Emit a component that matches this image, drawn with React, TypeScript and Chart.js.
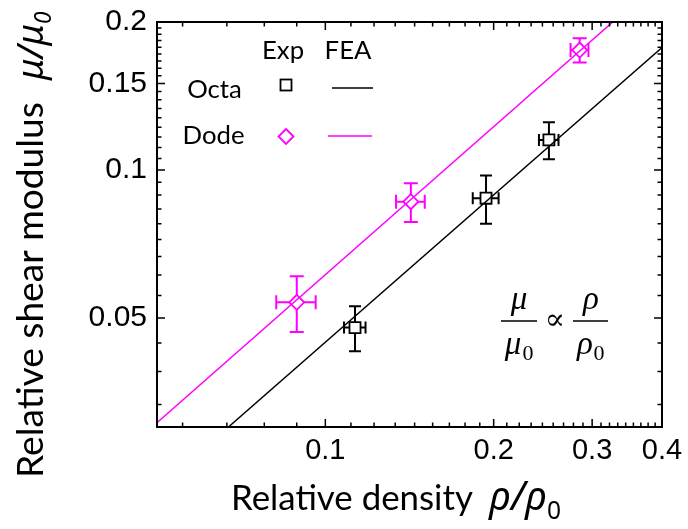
import React, { useEffect, useRef } from 'react';
import { Chart, registerables } from 'chart.js';
Chart.register(...registerables);

// ---- axis ranges & ticks ----
const xMin = 0.05;
const xMax = 0.4;
const yMin = 0.03;
const yMax = 0.2;
const xMajorTicks = [0.1, 0.2, 0.3, 0.4];
const xTickLabels = ['0.1', '0.2', '0.3', '0.4'];
const yMajorTicks = [0.05, 0.1, 0.15, 0.2];
const yTickLabels = ['0.05', '0.1', '0.15', '0.2'];
const xMajorStep = 0.1;
const yMajorStep = 0.05;
const minorPerMajor = 8;

// ---- experimental data ----
const octaDensity = [0.113, 0.1938, 0.2511];
const octaModulus = [0.0478, 0.0876, 0.1151];
const octaDensityErr = [0.005, 0.0103, 0.0101];
const octaModulusErr = [0.005, 0.0099, 0.0099];

const dodeDensity = [0.0889, 0.1422, 0.285];
const dodeModulus = [0.0538, 0.0862, 0.1754];
const dodeDensityErr = [0.0072, 0.0084, 0.0105];
const dodeModulusErr = [0.007, 0.0078, 0.0099];

// ---- FEA fits ----
const octaFeaDensity = [0.0671, 0.4];
const octaFeaModulus = [0.03, 0.1775];
const dodeFeaDensity = [0.05, 0.3266];
const dodeFeaModulus = [0.0306, 0.2];

const MAGENTA = '#ff00ff';
const BLACK = '#000000';
const SANS = 'Lato, "Open Sans", sans-serif';
const GREEK = '"Noto Sans", "DejaVu Sans", sans-serif';
const TICKFONT = '"Liberation Sans", Arial, sans-serif';
const SERIF = '"Liberation Serif", "DejaVu Serif", serif';

const pts = (xs: number[], ys: number[]) => xs.map((x, i) => ({ x, y: ys[i] }));

function fitSize(ctx: CanvasRenderingContext2D, text: string, style: string, family: string, target: number) {
  ctx.font = `${style} 40px ${family}`;
  const w = ctx.measureText(text).width;
  return (40 * target) / w;
}

function minorValues(step: number, min: number, max: number) {
  const out: { v: number; major: boolean }[] = [];
  const sub = step / (minorPerMajor + 1);
  for (let k = 1; k * sub <= max * 1.0001; k++) {
    const v = k * sub;
    if (v < min * 0.9999) continue;
    out.push({ v, major: k % (minorPerMajor + 1) === 0 });
  }
  return out;
}

const annotPlugin = {
  id: 'annot',
  beforeDatasetsDraw(chart: any) {
    const ctx: CanvasRenderingContext2D = chart.ctx;
    const xs = chart.scales.x;
    const ys = chart.scales.y;
    const drawErr = (d: number[], m: number[], de: number[], me: number[], color: string, cap: number) => {
      ctx.save();
      ctx.strokeStyle = color;
      ctx.lineWidth = 2;
      for (let i = 0; i < d.length; i++) {
        const cx = xs.getPixelForValue(d[i]);
        const cy = ys.getPixelForValue(m[i]);
        const xl = xs.getPixelForValue(d[i] - de[i]);
        const xr = xs.getPixelForValue(d[i] + de[i]);
        const yt = ys.getPixelForValue(m[i] + me[i]);
        const yb = ys.getPixelForValue(m[i] - me[i]);
        ctx.beginPath();
        ctx.moveTo(xl, cy); ctx.lineTo(xr, cy);
        ctx.moveTo(cx, yt); ctx.lineTo(cx, yb);
        ctx.moveTo(xl, cy - cap); ctx.lineTo(xl, cy + cap);
        ctx.moveTo(xr, cy - cap); ctx.lineTo(xr, cy + cap);
        ctx.moveTo(cx - cap, yt); ctx.lineTo(cx + cap, yt);
        ctx.moveTo(cx - cap, yb); ctx.lineTo(cx + cap, yb);
        ctx.stroke();
      }
      ctx.restore();
    };
    drawErr(octaDensity, octaModulus, octaDensityErr, octaModulusErr, BLACK, 6);
    drawErr(dodeDensity, dodeModulus, dodeDensityErr, dodeModulusErr, MAGENTA, 7);
  },
  afterDraw(chart: any) {
    const ctx: CanvasRenderingContext2D = chart.ctx;
    const { left, right, top, bottom } = chart.chartArea;
    const xs = chart.scales.x;
    const ys = chart.scales.y;
    ctx.save();
    // frame
    ctx.strokeStyle = BLACK;
    ctx.lineWidth = 2;
    ctx.strokeRect(left, top, right - left, bottom - top);
    // inward ticks on all sides
    ctx.lineWidth = 1.5;
    ctx.beginPath();
    for (const t of minorValues(xMajorStep, xMin, xMax)) {
      const p = xs.getPixelForValue(t.v);
      const L = t.major ? 8 : 4.5;
      ctx.moveTo(p, bottom); ctx.lineTo(p, bottom - L);
      ctx.moveTo(p, top); ctx.lineTo(p, top + L);
    }
    for (const t of minorValues(yMajorStep, yMin, yMax)) {
      const p = ys.getPixelForValue(t.v);
      const L = t.major ? 8 : 4.5;
      ctx.moveTo(left, p); ctx.lineTo(left + L, p);
      ctx.moveTo(right, p); ctx.lineTo(right - L, p);
    }
    ctx.stroke();

    // legend table
    ctx.fillStyle = BLACK;
    const lfs = fitSize(ctx, 'Dode', '', SANS, 62);
    ctx.font = `${lfs}px ${SANS}`;
    ctx.textAlign = 'center';
    ctx.textBaseline = 'alphabetic';
    ctx.fillText('Exp', 283, 59);
    ctx.fillText('FEA', 348, 59);
    ctx.fillText('Octa', 214.5, 98);
    ctx.fillText('Dode', 213.6, 144);
    ctx.lineWidth = 1.8;
    ctx.strokeStyle = BLACK;
    ctx.strokeRect(286 - 5.5, 85 - 5.5, 11, 11);
    ctx.beginPath(); ctx.moveTo(332, 88); ctx.lineTo(373, 88); ctx.lineWidth = 1.5; ctx.stroke();
    ctx.strokeStyle = MAGENTA;
    ctx.lineWidth = 1.8;
    ctx.beginPath();
    ctx.moveTo(286, 136.5 - 7.5); ctx.lineTo(293.5, 136.5); ctx.lineTo(286, 144); ctx.lineTo(278.5, 136.5); ctx.closePath();
    ctx.stroke();
    ctx.beginPath(); ctx.moveTo(328, 136); ctx.lineTo(372, 136); ctx.lineWidth = 1.5; ctx.stroke();

    // x title
    ctx.fillStyle = BLACK;
    ctx.textAlign = 'left';
    const xfs = fitSize(ctx, 'Relative density', '', SANS, 242);
    ctx.font = `${xfs}px ${SANS}`;
    ctx.fillText('Relative density', 231, 510);
    const gfs = fitSize(ctx, 'ρ/ρ', 'italic', GREEK, 58);
    ctx.font = `italic ${gfs}px ${GREEK}`;
    ctx.fillText('ρ/ρ', 489, 510);
    const gw = ctx.measureText('ρ/ρ').width;
    ctx.font = `${gfs * 0.62}px ${GREEK}`;
    ctx.fillText('0', 489 + gw, 519);

    // y title (rotated)
    ctx.save();
    ctx.translate(43, 478);
    ctx.rotate(-Math.PI / 2);
    const yfs = fitSize(ctx, 'Relative shear modulus', '', SANS, 376);
    ctx.font = `${yfs}px ${SANS}`;
    ctx.fillText('Relative shear modulus', 0, 0);
    const yg = fitSize(ctx, 'μ/μ', 'italic', GREEK, 56);
    ctx.font = `italic ${yg}px ${GREEK}`;
    ctx.fillText('μ/μ', 398, 0);
    const yw = ctx.measureText('μ/μ').width;
    ctx.font = `italic ${yg * 0.62}px ${GREEK}`;
    ctx.fillText('0', 398 + yw, 8);
    ctx.restore();

    // formula  mu/mu0 ∝ rho/rho0
    ctx.fillStyle = BLACK;
    ctx.strokeStyle = BLACK;
    ctx.lineWidth = 1.3;
    ctx.beginPath();
    ctx.moveTo(501, 321); ctx.lineTo(537, 321);
    ctx.moveTo(573, 321); ctx.lineTo(608, 321);
    ctx.stroke();
    ctx.textAlign = 'center';
    ctx.font = `italic 33px ${SERIF}`;
    ctx.fillText('μ', 519, 309);
    ctx.fillText('μ', 513, 354);
    ctx.fillText('ρ', 591, 309);
    ctx.fillText('ρ', 585, 354);
    ctx.font = `22px ${SERIF}`;
    ctx.fillText('0', 528, 360);
    ctx.fillText('0', 599, 360);
    ctx.font = `30px ${SERIF}`;
    ctx.textBaseline = 'middle';
    ctx.fillText('∝', 555, 321);
    ctx.restore();
  },
};

export default function App() {
  const ref = useRef<HTMLCanvasElement>(null);
  useEffect(() => {
    const chart = new Chart(ref.current as HTMLCanvasElement, {
      type: 'scatter',
      data: {
        datasets: [
          {
            label: 'Octa FEA',
            data: pts(octaFeaDensity, octaFeaModulus),
            showLine: true,
            borderColor: BLACK,
            borderWidth: 1.5,
            pointRadius: 0,
            order: 0,
          },
          {
            label: 'Dode FEA',
            data: pts(dodeFeaDensity, dodeFeaModulus),
            showLine: true,
            borderColor: MAGENTA,
            borderWidth: 1.5,
            pointRadius: 0,
            order: 0,
          },
          {
            label: 'Octa Exp',
            data: pts(octaDensity, octaModulus),
            pointStyle: 'rect',
            pointRadius: 7.8,
            borderColor: BLACK,
            backgroundColor: '#ffffff',
            borderWidth: 1.8,
            order: 1,
          },
          {
            label: 'Dode Exp',
            data: pts(dodeDensity, dodeModulus),
            pointStyle: 'rectRot',
            pointRadius: 7.5,
            borderColor: MAGENTA,
            backgroundColor: '#ffffff',
            borderWidth: 1.8,
            order: 1,
          },
        ],
      },
      options: {
        animation: false,
        responsive: false,
        events: [],
        layout: { padding: { left: 0, top: 22, right: 26, bottom: 0 } },
        plugins: { legend: { display: false }, tooltip: { enabled: false } },
        scales: {
          x: {
            type: 'logarithmic',
            min: xMin,
            max: xMax,
            bounds: 'data',
            grid: { display: false, drawTicks: false },
            border: { display: false },
            ticks: {
              color: BLACK,
              font: { family: TICKFONT, size: 29 },
              padding: 7,
              autoSkip: false,
              maxRotation: 0,
              callback: (_v: any, i: number) => xTickLabels[i],
            },
            afterBuildTicks: (s: any) => {
              s.ticks = xMajorTicks.map((v) => ({ value: v }));
            },
            afterFit: (s: any) => {
              s.height = 102;
              s.paddingLeft = 0;
              s.paddingRight = 0;
            },
          },
          y: {
            type: 'logarithmic',
            min: yMin,
            max: yMax,
            bounds: 'data',
            grid: { display: false, drawTicks: false },
            border: { display: false },
            ticks: {
              color: BLACK,
              font: { family: TICKFONT, size: 30 },
              padding: 10,
              autoSkip: false,
              callback: (_v: any, i: number) => yTickLabels[i],
            },
            afterBuildTicks: (s: any) => {
              s.ticks = yMajorTicks.map((v) => ({ value: v }));
            },
            afterFit: (s: any) => {
              s.width = 157;
              s.paddingTop = 0;
              s.paddingBottom = 0;
            },
          },
        },
      } as any,
      plugins: [annotPlugin],
    });
    return () => chart.destroy();
  }, []);
  return (
    <div style={{ position: 'absolute', left: 0, top: 0, width: 688, height: 529, background: '#fff' }}>
      <canvas ref={ref} width={688} height={529} style={{ display: 'block' }} />
    </div>
  );
}
